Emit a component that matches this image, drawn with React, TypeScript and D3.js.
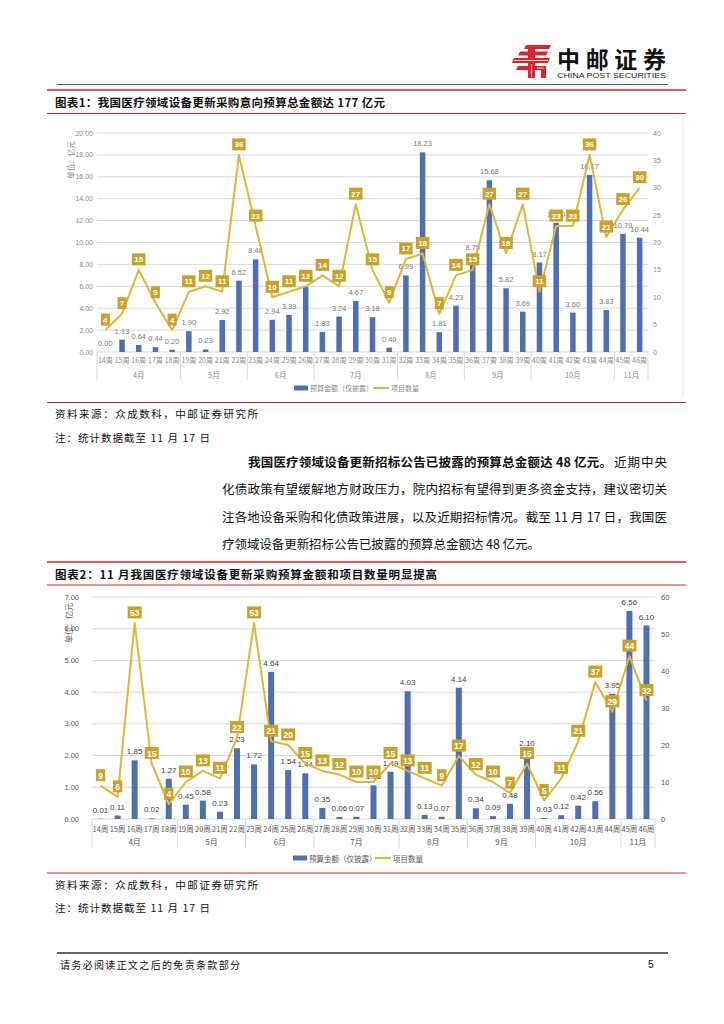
import React from 'react';
import * as d3 from 'd3';

const weeks = ["14周","15周","16周","17周","18周","19周","20周","21周","22周","23周","24周","25周","26周","27周","28周","29周","30周","31周","32周","33周","34周","35周","36周","37周","38周","39周","40周","41周","42周","43周","44周","45周","46周"];
const monthNames = ["4月","5月","6月","7月","8月","9月","10月","11月"];
const monthWeekCounts = [5, 4, 4, 5, 4, 4, 5, 2];

// Chart 1: 采购意向
const budget1 = [0.00,1.13,0.64,0.44,0.20,1.90,0.23,2.92,6.52,8.46,2.94,3.39,5.98,1.83,3.24,4.67,3.18,0.40,6.99,18.23,1.81,4.23,8.75,15.68,5.82,3.69,8.17,11.80,3.60,16.17,3.83,10.79,10.44];
const count1 = [4,7,15,9,4,11,12,11,36,23,10,11,12,14,12,27,15,9,17,18,7,14,15,27,18,27,11,23,23,36,21,26,30];
const leftTicks1 = [0,2,4,6,8,10,12,14,16,18,20];
const rightTicks1 = [0,5,10,15,20,25,30,35,40];

// Chart 2: 招标公告
const budget2 = [0.01,0.11,1.85,0.02,1.27,0.45,0.58,0.23,2.23,1.72,4.64,1.54,1.44,0.35,0.06,0.07,1.06,1.49,4.03,0.13,0.07,4.14,0.34,0.09,0.48,2.10,0.03,0.12,0.42,0.56,3.95,6.56,6.10];
const count2 = [9,6,53,15,4,10,13,11,22,53,21,20,15,13,12,10,10,15,13,11,9,17,12,10,7,15,5,11,21,37,29,44,32];
const leftTicks2 = [0,1,2,3,4,5,6,7];
const rightTicks2 = [0,10,20,30,40,50,60];

const legendBar = "预算金额（仅披露）";
const legendLine = "项目数量";
const unitLabel = "单位：亿元";

const RED = "#d9262c";
const BAR = "#4f6fb3";
const LINE = "#e3b437";
const BOX = "#c9a22a";
const NUM = "Liberation Sans, Arial, sans-serif";
const CJK = "Noto Sans CJK SC, sans-serif";

type Cfg = {
  left: number; right: number; top: number; bottom: number;
  leftMax: number; rightMax: number; leftTicks: number[]; rightTicks: number[];
  budget: number[]; count: number[];
  leftLabelX: number; rightLabelX: number;
  weekY: number; monthY: number; sepBottom: number; legendY: number;
  legendBarX: number; legendLineX: number;
  unitX: number; unitY: number;
  textColor: string; axisFont: number; dataFont: number; weekFont: number; boxFont: number;
  barWidth: number; barLabelColor: string;
};

function Chart({ c }: { c: Cfg }) {
  const x = d3.scaleBand<string>().domain(weeks).range([c.left, c.right]).padding(0);
  const bw = x.bandwidth();
  const yL = d3.scaleLinear().domain([0, c.leftMax]).range([c.bottom, c.top]);
  const yR = d3.scaleLinear().domain([0, c.rightMax]).range([c.bottom, c.top]);
  const cx = (i: number) => (x(weeks[i]) as number) + bw / 2;
  const linePath = d3.line<number>().x((_, i) => cx(i)).y(d => yR(d))(c.count) || "";
  const bounds: number[] = [0];
  monthWeekCounts.forEach(n => bounds.push(bounds[bounds.length - 1] + n));
  return (
    <g>
      {c.leftTicks.map(t => (
        <line key={"g" + t} x1={c.left} x2={c.right} y1={yL(t)} y2={yL(t)} stroke="#d9d9d9" strokeWidth={1} />
      ))}
      {c.leftTicks.map(t => (
        <text key={"l" + t} x={c.leftLabelX} y={yL(t)} textAnchor="end" dominantBaseline="central"
          fontFamily={NUM} fontSize={c.axisFont} fill={c.textColor}>{t.toFixed(2)}</text>
      ))}
      {c.rightTicks.map(t => (
        <text key={"r" + t} x={c.rightLabelX} y={yR(t)} textAnchor="start" dominantBaseline="central"
          fontFamily={NUM} fontSize={c.axisFont} fill={c.textColor}>{t}</text>
      ))}
      <text transform={`translate(${c.unitX},${c.unitY}) rotate(-90)`} textAnchor="middle" dominantBaseline="central"
        fontFamily={CJK} fontSize={c.axisFont + 0.5} fill={c.textColor}>{unitLabel}</text>
      {bounds.map((b, i) => (
        <line key={"s" + i} x1={c.left + b * bw} x2={c.left + b * bw} y1={c.bottom} y2={c.sepBottom} stroke="#d9d9d9" strokeWidth={1} />
      ))}
      {weeks.map((w, i) => (
        <text key={"w" + i} x={cx(i)} y={c.weekY} textAnchor="middle" dominantBaseline="central"
          fontFamily={CJK} fontSize={c.weekFont} fill={c.textColor}>{w}</text>
      ))}
      {monthNames.map((m, i) => (
        <text key={"m" + i} x={c.left + (bounds[i] + bounds[i + 1]) / 2 * bw} y={c.monthY} textAnchor="middle" dominantBaseline="central"
          fontFamily={CJK} fontSize={c.weekFont + 0.5} fill={c.textColor}>{m}</text>
      ))}
      {c.budget.map((v, i) => (
        <rect key={"b" + i} x={cx(i) - c.barWidth / 2} y={yL(v)} width={c.barWidth} height={c.bottom - yL(v)} fill={BAR} />
      ))}
      {c.budget.map((v, i) => (
        <text key={"bl" + i} x={cx(i)} y={yL(v) - 8.5} textAnchor="middle" dominantBaseline="central"
          fontFamily={NUM} fontSize={c.dataFont} fill={c.barLabelColor}>{v.toFixed(2)}</text>
      ))}
      <path d={linePath} fill="none" stroke={LINE} strokeWidth={2} strokeLinejoin="round" />
      {c.count.map((v, i) => {
        const s = String(v);
        const w = s.length * (c.boxFont * 0.56) + 4.5;
        const yy = yR(v) - 10.5;
        return (
          <g key={"c" + i}>
            <rect x={cx(i) - w / 2} y={yy - 6} width={w} height={12} fill={BOX} />
            <text x={cx(i)} y={yy + 0.5} textAnchor="middle" dominantBaseline="central" fontFamily={NUM}
              fontSize={c.boxFont} fontWeight="bold" fill="#ffffff">{s}</text>
          </g>
        );
      })}
      <rect x={c.legendBarX} y={c.legendY - 2.5} width={14} height={5} fill={BAR} />
      <text x={c.legendBarX + 16} y={c.legendY} dominantBaseline="central" fontFamily={CJK} fontSize={c.weekFont} fill={c.textColor}>{legendBar}</text>
      <line x1={c.legendLineX} x2={c.legendLineX + 16} y1={c.legendY} y2={c.legendY} stroke={LINE} strokeWidth={2} />
      <text x={c.legendLineX + 18} y={c.legendY} dominantBaseline="central" fontFamily={CJK} fontSize={c.weekFont} fill={c.textColor}>{legendLine}</text>
    </g>
  );
}

const cfg1: Cfg = {
  left: 97, right: 648, top: 133, bottom: 352,
  leftMax: 20, rightMax: 40, leftTicks: leftTicks1, rightTicks: rightTicks1,
  budget: budget1, count: count1,
  leftLabelX: 93, rightLabelX: 653,
  weekY: 360, monthY: 374, sepBottom: 380, legendY: 388,
  legendBarX: 294, legendLineX: 373,
  unitX: 70, unitY: 160,
  textColor: "#8a8a8a", axisFont: 7, dataFont: 7.5, weekFont: 7, boxFont: 8,
  barWidth: 5.5, barLabelColor: "#7a7a7a",
};

const cfg2: Cfg = {
  left: 92, right: 655, top: 597, bottom: 819,
  leftMax: 7, rightMax: 60, leftTicks: leftTicks2, rightTicks: rightTicks2,
  budget: budget2, count: count2,
  leftLabelX: 79, rightLabelX: 661,
  weekY: 828.5, monthY: 841, sepBottom: 848, legendY: 858,
  legendBarX: 293, legendLineX: 375,
  unitX: 68, unitY: 623,
  textColor: "#595959", axisFont: 7.5, dataFont: 8, weekFont: 7.5, boxFont: 8.5,
  barWidth: 6, barLabelColor: "#404040",
};

export default function App() {
  return (
    <div style={{ position: "absolute", left: 0, top: 0, width: 724, height: 1024, background: "#fff" }}>
      <svg width={724} height={1024} viewBox="0 0 724 1024" xmlns="http://www.w3.org/2000/svg">
        <rect width={724} height={1024} fill="#fff" />
        {/* logo */}
        <g fill={RED}>
          <path d="M526,45 L551,45 L549,49 L524,49 Z" />
          <path d="M520,51.5 L548,51.5 L546,55.5 L518,55.5 Z" />
          <path d="M514,58 L550,58 L548,63 L512,63 Z" />
          <path d="M528,45 L535,45 L535,78 L528,78 Z" />
          <path d="M535,66 L546,66 L546,78 L541,78 L541,70 L535,70 Z" />
          <path d="M518,66 L528,66 L528,70 L516,70 Z" />
        </g>
        <g stroke="#fff" strokeWidth={0.8}>
          <line x1={514} x2={548} y1={60.5} y2={60.5} />
          <line x1={531.5} x2={531.5} y1={64} y2={77} />
          <line x1={537} x2={543.5} y1={68} y2={68} />
        </g>
        <text x={557} y={58} dominantBaseline="central" fontFamily={CJK} fontWeight="bold" fontSize={23} textLength={109} lengthAdjust="spacing" fill="#111">中邮证券</text>
        <text x={557} y={75.5} dominantBaseline="central" fontFamily="Liberation Sans, Arial, sans-serif" fontSize={8} textLength={109} lengthAdjust="spacingAndGlyphs" fill="#222">CHINA POST SECURITIES</text>
        <line x1={57} x2={668} y1={84.5} y2={84.5} stroke="#555" strokeWidth={1} />

        {/* title 1 */}
        <line x1={47} x2={686} y1={90} y2={90} stroke={RED} strokeWidth={1.5} />
        <text x={55} y={101.5} dominantBaseline="central" fontFamily={CJK} fontWeight="bold" fontSize={11.5} textLength={330} lengthAdjust="spacing" fill="#111">图表1：我国医疗领域设备更新采购意向预算总金额达 177 亿元</text>
        <line x1={47} x2={686} y1={113.5} y2={113.5} stroke={RED} strokeWidth={1.2} />

        <line x1={683} x2={683} y1={117} y2={396} stroke="#e8e8e8" strokeWidth={1} />
        <Chart c={cfg1} />

        <line x1={47} x2={686} y1={402.5} y2={402.5} stroke={RED} strokeWidth={1} />
        <text x={55} y={413.5} dominantBaseline="central" fontFamily={CJK} fontSize={10.5} textLength={203} lengthAdjust="spacing" fill="#111">资料来源：众成数科，中邮证券研究所</text>
        <text x={55} y={437} dominantBaseline="central" fontFamily={CJK} fontSize={10.5} textLength={155} lengthAdjust="spacing" fill="#111">注：统计数据截至 11 月 17 日</text>

        {/* paragraph */}
        <text x={248} y={461} dominantBaseline="central" fontFamily={CJK} fontWeight="bold" fontSize={12.5} textLength={364} lengthAdjust="spacing" fill="#111">我国医疗领域设备更新招标公告已披露的预算总金额达 48 亿元。</text>
        <text x={614} y={461} dominantBaseline="central" fontFamily={CJK} fontSize={12.5} textLength={53} lengthAdjust="spacing" fill="#111">近期中央</text>
        <text x={222} y={488.5} dominantBaseline="central" fontFamily={CJK} fontSize={12.5} textLength={445} lengthAdjust="spacing" fill="#111">化债政策有望缓解地方财政压力，院内招标有望得到更多资金支持，建议密切关</text>
        <text x={222} y={516} dominantBaseline="central" fontFamily={CJK} fontSize={12.5} textLength={445} lengthAdjust="spacing" fill="#111">注各地设备采购和化债政策进展，以及近期招标情况。截至 11 月 17 日，我国医</text>
        <text x={222} y={543.5} dominantBaseline="central" fontFamily={CJK} fontSize={12.5} textLength={318} lengthAdjust="spacing" fill="#111">疗领域设备更新招标公告已披露的预算总金额达 48 亿元。</text>

        {/* title 2 */}
        <line x1={47} x2={686} y1={562} y2={562} stroke={RED} strokeWidth={1.5} />
        <text x={55} y={573.5} dominantBaseline="central" fontFamily={CJK} fontWeight="bold" fontSize={11.5} textLength={382} lengthAdjust="spacing" fill="#111">图表2：11 月我国医疗领域设备更新采购预算金额和项目数量明显提高</text>
        <line x1={47} x2={686} y1={585} y2={585} stroke={RED} strokeWidth={1.2} />

        <Chart c={cfg2} />

        <line x1={47} x2={686} y1={873} y2={873} stroke={RED} strokeWidth={1} />
        <text x={55} y={884} dominantBaseline="central" fontFamily={CJK} fontSize={10.5} textLength={203} lengthAdjust="spacing" fill="#111">资料来源：众成数科，中邮证券研究所</text>
        <text x={55} y={907} dominantBaseline="central" fontFamily={CJK} fontSize={10.5} textLength={155} lengthAdjust="spacing" fill="#111">注：统计数据截至 11 月 17 日</text>

        {/* footer */}
        <line x1={57} x2={668} y1={953} y2={953} stroke="#333" strokeWidth={1.5} />
        <text x={60} y={964} dominantBaseline="central" fontFamily={CJK} fontSize={10} textLength={180} lengthAdjust="spacing" fill="#111">请务必阅读正文之后的免责条款部分</text>
        <text x={648} y={964} dominantBaseline="central" fontFamily={NUM} fontSize={10.5} fill="#111">5</text>
      </svg>
    </div>
  );
}
